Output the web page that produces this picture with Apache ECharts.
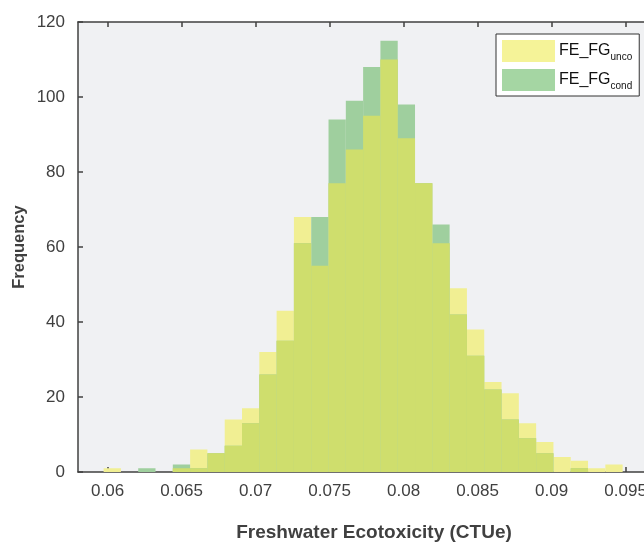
<!DOCTYPE html>
<html>
<head>
<meta charset="utf-8">
<script src="https://cdn.jsdelivr.net/npm/echarts@6/dist/echarts.min.js"></script>
<style>html,body{margin:0;padding:0;background:#fff}#c{width:644px;height:544px}</style>
</head>
<body>
<div id="c"></div>
<script>
// Histogram bins
var binStart = 0.05973;
var binWidth = 0.001169;
var uncoCounts = [1,0,0,0,1,6,5,14,17,32,43,68,55,77,86,95,110,89,77,61,49,38,24,21,13,8,4,3,1,2];
var condCounts = [0,0,1,0,2,1,5,7,13,26,35,61,68,94,99,108,115,98,77,66,42,31,22,14,9,5,0,1,0,0];
var xTicks = [0.06,0.065,0.07,0.075,0.08,0.085,0.09,0.095];
var xTickLabels = ['0.06','0.065','0.07','0.075','0.08','0.085','0.09','0.095'];
var yTicks = [0,20,40,60,80,100,120];

var FONT = '"Liberation Sans", Arial, Helvetica, sans-serif';
var AX = '#404040';
var C_UNCO = '#f1ef93', C_COND = '#9fcf9e', C_BOTH = '#cfde6d';

function binData(counts){
  return counts.map(function(v,k){ return [binStart + k*binWidth, binStart + (k+1)*binWidth, v]; });
}
var overlap = uncoCounts.map(function(v,k){ return Math.min(v, condCounts[k]); });

function render(color){
  return function(params, api){
    var h = api.value(2);
    if (!h) return;
    var p0 = api.coord([api.value(0), h]);
    var p1 = api.coord([api.value(1), 0]);
    return {type:'rect', shape:{x:p0[0], y:p0[1], width:p1[0]-p0[0], height:p1[1]-p0[1]},
            style:{fill:color}};
  };
}
function cs(name, counts, color){
  return {type:'custom', name:name, data:binData(counts), renderItem:render(color),
          encode:{x:[0,1], y:2}, itemStyle:{color:color}, silent:true, animation:false};
}

var chart = echarts.init(document.getElementById('c'), null, {renderer:'canvas'});
var labelMap = {'FE_FG_unco':'{a|FE_FG}{b|unco}', 'FE_FG_cond':'{a|FE_FG}{b|cond}'};
chart.setOption({
  animation:false,
  backgroundColor:'#ffffff',
  textStyle:{fontFamily:FONT},
  grid:{left:78, top:22, right:-26, bottom:72, show:true, backgroundColor:'#f0f1f3', borderWidth:0,
        containLabel:false, outerBoundsMode:'none'},
  legend:{
    left:496, top:34, orient:'vertical',
    data:[{name:'FE_FG_unco', itemStyle:{color:'#f5f398'}}, {name:'FE_FG_cond', itemStyle:{color:'#a5d6a3'}}],
    itemWidth:53, itemHeight:22, itemGap:7,
    icon:'rect',
    padding:[6,7,5,6],
    backgroundColor:'#ffffff', borderColor:'#333333', borderWidth:1, borderRadius:0,
    formatter:function(n){ return labelMap[n]; },
    textStyle:{fontFamily:FONT, color:'#111', padding:[0,0,0,-1],
      rich:{a:{fontSize:16, lineHeight:22, fontFamily:FONT, color:'#111'},
            b:{fontSize:10, lineHeight:10, verticalAlign:'bottom', fontFamily:FONT, color:'#111'}}},
    selectedMode:false
  },
  xAxis:[{
    type:'value', min:0.058, max:0.098, position:'bottom',
    name:'Freshwater Ecotoxicity (CTUe)', nameLocation:'middle', nameGap:51,
    nameTextStyle:{fontSize:19, fontWeight:'bold', color:AX, fontFamily:FONT},
    axisLine:{show:true, onZero:false, lineStyle:{color:AX, width:1.5}},
    axisTick:{show:true, inside:true, length:5, customValues:xTicks, lineStyle:{color:AX, width:1.5}},
    axisLabel:{show:true, customValues:xTicks, margin:11, fontSize:17, color:AX, fontFamily:FONT,
      formatter:function(v){ var i = xTicks.indexOf(v); return i>=0 ? xTickLabels[i] : ''; }},
    splitLine:{show:false}
  },{
    type:'value', min:0.058, max:0.098, position:'top',
    axisLine:{show:true, onZero:false, lineStyle:{color:AX, width:1.5}},
    axisTick:{show:true, inside:true, length:5, customValues:xTicks, lineStyle:{color:AX, width:1.5}},
    axisLabel:{show:false}, splitLine:{show:false}
  }],
  yAxis:[{
    type:'value', min:0, max:120, interval:20,
    name:'Frequency', nameLocation:'middle', nameGap:50, nameMoveOverlap:false,
    nameTextStyle:{fontSize:16.5, fontWeight:'bold', color:AX, fontFamily:FONT},
    axisLine:{show:true, lineStyle:{color:AX, width:1.5}},
    axisTick:{show:true, inside:true, length:5, lineStyle:{color:AX, width:1.5}},
    axisLabel:{margin:13, fontSize:17, color:AX, fontFamily:FONT},
    splitLine:{show:false}
  }],
  series:[
    cs('FE_FG_unco', uncoCounts, C_UNCO),
    cs('FE_FG_cond', condCounts, C_COND),
    cs('overlap', overlap, C_BOTH)
  ]
});
</script>
</body>
</html>
